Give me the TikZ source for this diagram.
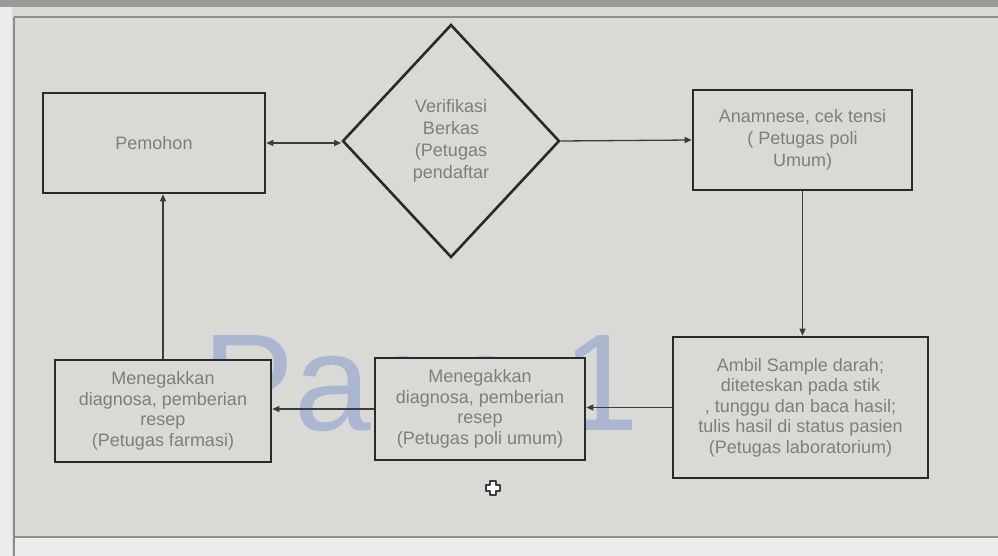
\documentclass[tikz,border=0pt]{standalone}
\usepackage{fontspec}
\setmainfont{Liberation Sans}
\usetikzlibrary{shapes.geometric,arrows.meta}
\definecolor{bg}{HTML}{D9D9D5}
\definecolor{topband}{HTML}{9A9A98}
\definecolor{strip}{HTML}{ECECEA}
\definecolor{framec}{HTML}{8E8E8C}
\definecolor{boxc}{HTML}{2A2A2A}
\definecolor{linec}{HTML}{3C3C3C}
\definecolor{txt}{HTML}{7E7E7E}
\definecolor{wm}{HTML}{ABB7D1}
\begin{document}
\begin{tikzpicture}[x=1pt,y=-1pt,
  box/.style={draw=boxc,line width=2.6pt,fill=bg,text=txt,
    font=\fontsize{18}{20.5}\selectfont,align=center,inner sep=0pt},
  decision/.style={box,shape=diamond,font=\fontsize{18}{22}\selectfont},
  conn/.style={draw=linec,line width=1.3pt,-{Triangle[length=7pt,width=6pt]}},
  framel/.style={draw=framec,line width=1.4pt}
]
\useasboundingbox (0,0) rectangle (998,556);
% screen background
\fill[bg] (0,0) rectangle (998,556);
\fill[strip] (0,0) rectangle (12,556);
\fill[strip] (14,537) rectangle (998,556);
\fill[topband] (0,0) rectangle (998,7);
\draw[framel] (14,17) -- (998,17);
\draw[framel] (14,17) -- (14,556);
\draw[framel] (14,537) -- (998,537);
% watermark
\node[anchor=base west,inner sep=0pt,text=wm,font=\fontsize{138}{138}\selectfont] (mark) at (202,430) {Page 1};
% nodes
\node[box,minimum width=222pt,minimum height=100pt] (pemohon) at (154,143) {Pemohon};
\node[decision,minimum width=217pt,minimum height=233pt] (verif) at (451,141)
  {Verifikasi\\Berkas\\(Petugas\\pendaftar};
\node[box,minimum width=219pt,minimum height=100pt,font=\fontsize{18}{22}\selectfont] (anam) at (802.5,140)
  {Anamnese,\ cek tensi\\( Petugas poli\\Umum)};
\node[box,minimum width=255pt,minimum height=141pt] (ambil) at (800.5,407.5)
  {Ambil Sample darah;\\diteteskan pada stik\\, tunggu dan baca hasil;\\tulis hasil di status pasien\\(Petugas laboratorium)};
\node[box,minimum width=210pt,minimum height=102pt] (poli) at (480,409)
  {Menegakkan\\diagnosa, pemberian\\resep\\(Petugas poli umum)};
\node[box,minimum width=216pt,minimum height=102pt] (farmasi) at (163,411)
  {Menegakkan\\diagnosa, pemberian\\resep\\(Petugas farmasi)};
% connectors
\draw[conn,{Triangle[length=7pt,width=6pt]}-{Triangle[length=7pt,width=6pt]}] (pemohon.east) -- (pemohon.east -| verif.west);
\draw[conn] (verif.east) -- (anam.west);
\draw[conn] (anam.south) -- (anam.south |- ambil.north);
\draw[conn] (ambil.west) -- (ambil.west -| poli.east);
\draw[conn] (poli.west) -- (poli.west -| farmasi.east);
\draw[conn] (farmasi.north) -- (farmasi.north |- pemohon.south);
% mouse cursor
\draw[fill=white,draw=linec,line width=1.2pt,line join=round]
  (490,481) -- (496,481) -- (496,485) -- (500,485) -- (500,491) -- (496,491) -- (496,495)
  -- (490,495) -- (490,491) -- (486,491) -- (486,485) -- (490,485) -- cycle;
\end{tikzpicture}
\end{document}
